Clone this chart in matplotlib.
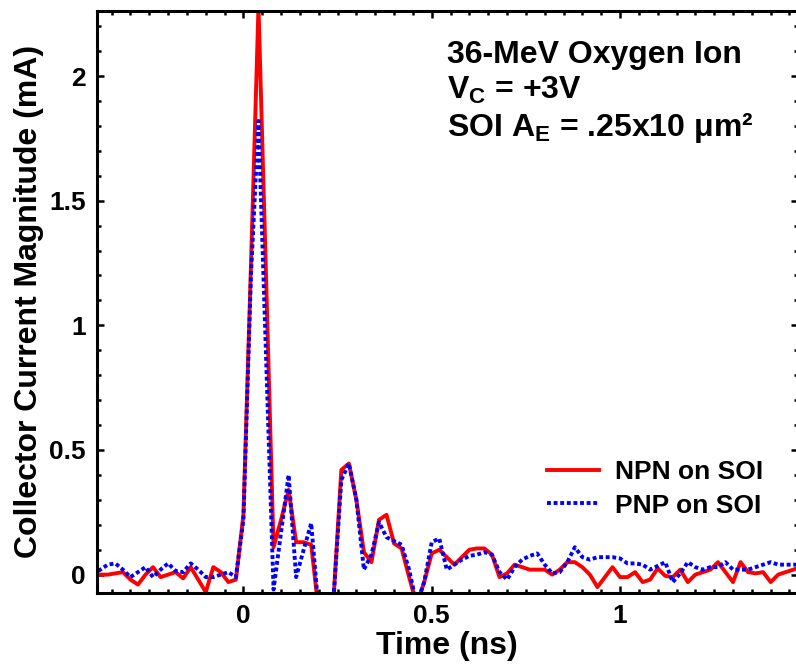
import matplotlib
matplotlib.use('Agg')
import matplotlib.pyplot as plt
import numpy as np
from matplotlib.ticker import MultipleLocator

plt.rcParams['font.family'] = ['Liberation Sans', 'DejaVu Sans']
plt.rcParams['font.weight'] = 'bold'
plt.rcParams['mathtext.fontset'] = 'custom'
plt.rcParams['mathtext.rm'] = 'Liberation Sans:bold'
plt.rcParams['mathtext.it'] = 'Liberation Sans:bold'
plt.rcParams['mathtext.bf'] = 'Liberation Sans:bold'

# sample times (ns), 20 ps spacing
t_ns = np.round(np.arange(-0.40, 1.481, 0.02), 2)

# collector current magnitude (mA)
npn_soi = [
    0.0, 0.0, 0.0, 0.005, 0.01, -0.02, -0.04, 0.0, 0.03, -0.01,
    0.0, 0.01, -0.015, 0.03, -0.02, -0.07, 0.03, 0.01, -0.03, -0.02,
    0.24, 1.24, 2.28, 1.2, 0.11, 0.22, 0.34, 0.13, 0.13, 0.12,
    -0.15, -0.25, -0.08, 0.42, 0.446, 0.30, 0.09, 0.05, 0.22, 0.24,
    0.125, 0.105, -0.01, -0.12, -0.03, 0.085, 0.10, 0.07, 0.04, 0.07,
    0.10, 0.105, 0.105, 0.08, -0.01, 0.005, 0.04, 0.03, 0.02, 0.02,
    0.02, 0.0, 0.02, 0.05, 0.05, 0.03, 0.0, -0.05, -0.01, 0.03,
    -0.01, -0.01, 0.01, -0.03, -0.02, 0.025, -0.005, -0.01, 0.02, -0.03,
    0.0, 0.01, 0.02, 0.05, 0.01, -0.03, 0.05, 0.01, 0.005, 0.01,
    -0.03, 0.0, 0.01, 0.02, 0.03,
]
pnp_soi = [
    0.0, 0.02, 0.04, 0.045, 0.02, -0.01, 0.01, 0.03, -0.01, 0.02,
    0.045, 0.015, 0.01, 0.045, 0.02, -0.01, -0.01, 0.0, 0.01, -0.01,
    0.22, 1.2, 1.82, 0.88, -0.06, 0.17, 0.40, -0.01, 0.10, 0.206,
    -0.15, -0.25, -0.08, 0.38, 0.446, 0.30, 0.02, 0.08, 0.21, 0.15,
    0.135, 0.12, 0.02, -0.12, -0.03, 0.13, 0.145, 0.02, 0.04, 0.06,
    0.075, 0.08, 0.09, 0.08, 0.01, -0.02, 0.03, 0.06, 0.075, 0.085,
    0.04, 0.005, 0.01, 0.05, 0.11, 0.07, 0.06, 0.07, 0.07, 0.07,
    0.065, 0.045, 0.045, 0.04, 0.02, 0.035, 0.05, -0.03, 0.005, 0.05,
    0.03, 0.02, 0.03, 0.03, 0.05, 0.02, 0.02, 0.02, 0.03, 0.04,
    0.05, 0.04, 0.04, 0.04, 0.04,
]

fig = plt.figure(figsize=(7.96, 6.65), dpi=100)
ax = fig.add_axes([0.1219, 0.1087, 0.880, 0.8755])

ax.plot(t_ns, npn_soi, color='#ff0000', lw=2.8, label='NPN on SOI')
ax.plot(t_ns, pnp_soi, color='#0000ff', lw=2.8, linestyle=(0, (1.0, 0.7)),
        label='PNP on SOI')

ax.set_xlim(-0.3887, 1.4713)
ax.set_ylim(-0.0726, 2.263)

ax.xaxis.set_major_locator(MultipleLocator(0.5))
ax.xaxis.set_minor_locator(MultipleLocator(0.05))
ax.yaxis.set_major_locator(MultipleLocator(0.5))
ax.yaxis.set_minor_locator(MultipleLocator(0.1))
ax.tick_params(which='both', direction='in', top=True, right=True,
               width=1.8, labelsize=19, pad=8)
ax.tick_params(which='major', length=5)
ax.tick_params(which='minor', length=3)
ax.xaxis.set_major_formatter(plt.FuncFormatter(lambda v, p: f'{v:g}'))
ax.yaxis.set_major_formatter(plt.FuncFormatter(lambda v, p: f'{v:g}'))
for s in ax.spines.values():
    s.set_linewidth(2.2)

ax.set_xlabel('Time (ns)', fontsize=23, fontweight='bold', labelpad=2)
ax.set_ylabel('Collector Current Magnitude (mA)', fontsize=23,
              fontweight='bold', labelpad=4)

ax.text(0.4996, 0.95, '36-MeV Oxygen Ion\nV$_{\\rm C}$ = +3V\nSOI A$_{\\rm E}$ = .25x10 \u03bcm\u00b2',
        transform=ax.transAxes, fontsize=23, fontweight='bold',
        va='top', ha='left', linespacing=1.22)

ax.legend(loc='lower right', bbox_to_anchor=(0.985, 0.088), frameon=False,
          fontsize=19, handlelength=2.0, handletextpad=0.6, labelspacing=0.35)

fig.savefig('out.png', dpi=100)
